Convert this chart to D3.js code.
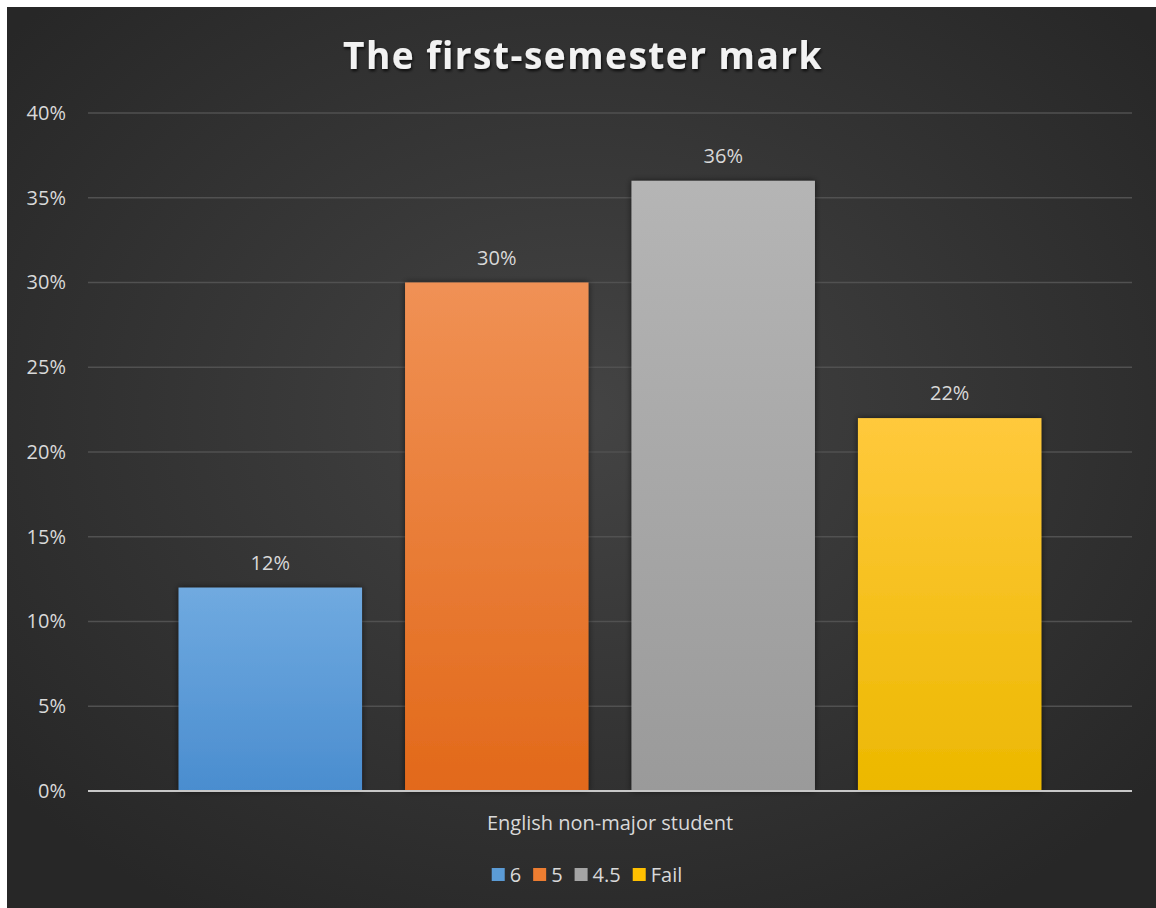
<!DOCTYPE html>
<html><head><meta charset="utf-8">
<script src="https://cdn.jsdelivr.net/npm/d3@7"></script>
<style>html,body{margin:0;padding:0;background:#fff;overflow:hidden;}svg{display:block;}</style>
</head><body>
<svg id="chart" width="1156" height="908"></svg>
<script>
const title = "The first-semester mark";
const category = "English non-major student";
const series = ["6", "5", "4.5", "Fail"];
const values = [0.12, 0.30, 0.36, 0.22];
const yTicks = [0, 0.05, 0.10, 0.15, 0.20, 0.25, 0.30, 0.35, 0.40];
const colorsTop = ["#70aae0", "#f09155", "#b5b5b5", "#ffc93c"];
const colorsBottom = ["#4a8dcf", "#e2691a", "#9a9a9a", "#ecb800"];
const legendColors = ["#5b9bd5", "#ed7d31", "#a5a5a5", "#ffc000"];

const svg = d3.select("#chart");
const W = 1156, H = 908;
const defs = svg.append("defs");
const bg = defs.append("radialGradient").attr("id","bg").attr("cx","50%").attr("cy","45%").attr("r","65%");
bg.append("stop").attr("offset","0%").attr("stop-color","#444444");
bg.append("stop").attr("offset","100%").attr("stop-color","#272727");
series.forEach((s,i)=>{
  const g = defs.append("linearGradient").attr("id","bar"+i).attr("x1",0).attr("y1",0).attr("x2",0).attr("y2",1);
  g.append("stop").attr("offset","0%").attr("stop-color",colorsTop[i]);
  g.append("stop").attr("offset","100%").attr("stop-color",colorsBottom[i]);
});
const sh = defs.append("filter").attr("id","shadow").attr("x","-10%").attr("y","-10%").attr("width","120%").attr("height","120%");
sh.append("feDropShadow").attr("dx",0).attr("dy",0).attr("stdDeviation",3).attr("flood-color","#000").attr("flood-opacity",0.6);
const tsh = defs.append("filter").attr("id","tshadow").attr("x","-10%").attr("y","-30%").attr("width","120%").attr("height","160%");
tsh.append("feDropShadow").attr("dx",1).attr("dy",2).attr("stdDeviation",1.5).attr("flood-color","#000").attr("flood-opacity",0.8);

svg.append("rect").attr("x",7).attr("y",7).attr("width",W-7).attr("height",H-7).attr("fill","url(#bg)");

const plotL = 88, plotR = 1132, plotT = 113, plotB = 791;
const y = d3.scaleLinear().domain([0, 0.40]).range([plotB, plotT]);
const x = d3.scaleBand().domain(series).range([plotL, plotR]).paddingInner(0.19).paddingOuter(0.4);
const FONT = "'Open Sans', sans-serif";

// gridlines
svg.append("g").selectAll("line").data(yTicks.filter(d=>d>0)).join("line")
  .attr("x1",plotL).attr("x2",plotR).attr("y1",d=>y(d)).attr("y2",d=>y(d))
  .attr("stroke","#515151").attr("stroke-width",1.3);

// y axis labels
const yAxis = d3.axisLeft(y).tickValues(yTicks).tickFormat(d3.format(".0%")).tickSize(0).tickPadding(22);
const ya = svg.append("g").attr("transform",`translate(${plotL},0)`).call(yAxis);
ya.select(".domain").remove();
ya.selectAll("text").attr("fill","#d9d9d9").style("font-family",FONT).style("font-size","20px");

// bars
svg.append("g").selectAll("rect").data(values).join("rect")
  .attr("x",(d,i)=>x(series[i])).attr("width",x.bandwidth())
  .attr("y",d=>y(d)).attr("height",d=>plotB-y(d))
  .attr("fill",(d,i)=>`url(#bar${i})`).attr("filter","url(#shadow)");

// zero axis line
svg.append("line").attr("x1",plotL).attr("x2",plotR).attr("y1",plotB).attr("y2",plotB)
  .attr("stroke","#c8c8c8").attr("stroke-width",2);

// value labels
svg.append("g").selectAll("text").data(values).join("text")
  .attr("x",(d,i)=>x(series[i])+x.bandwidth()/2).attr("y",d=>y(d)-18)
  .attr("text-anchor","middle").attr("fill","#d9d9d9")
  .style("font-family",FONT).style("font-size","20px")
  .text(d=>d3.format(".0%")(d));

// category label
svg.append("text").attr("x",(plotL+plotR)/2).attr("y",830).attr("text-anchor","middle")
  .attr("fill","#d9d9d9").style("font-family",FONT).style("font-size","20px")
  .text(category);

// title
svg.append("text").attr("x",583).attr("y",69).attr("text-anchor","middle")
  .attr("fill","#f2f2f2").attr("filter","url(#tshadow)")
  .style("font-family",FONT).style("font-size","37px").style("font-weight","bold")
  .style("letter-spacing","1.5px")
  .text(title);

// legend
const legend = svg.append("g");
const items = legend.selectAll("g").data(series).join("g");
items.append("rect").attr("width",13).attr("height",13).attr("y",-14).attr("fill",(d,i)=>legendColors[i]);
items.append("text").attr("x",18).attr("y",0).attr("fill","#d9d9d9")
  .style("font-family",FONT).style("font-size","20px").text(d=>d);
let cx = 0;
const widths = [];
items.each(function(){ widths.push(this.getBBox().width); });
items.attr("transform",(d,i)=>{ const t = `translate(${cx},0)`; cx += widths[i] + 12; return t; });
const total = cx - 12;
legend.attr("transform",`translate(${587 - total/2},${882})`);
</script>
</body></html>
